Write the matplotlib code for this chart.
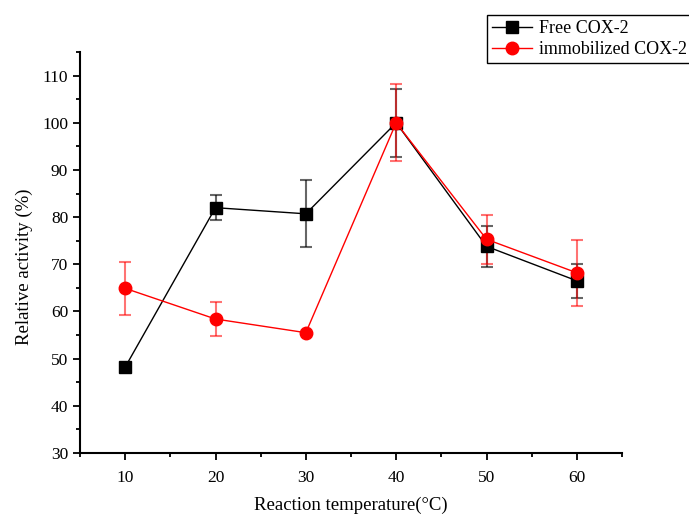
import matplotlib.pyplot as plt
from matplotlib.lines import Line2D
from matplotlib.ticker import MultipleLocator

temps = [10, 20, 30, 40, 50, 60]
free_act = [48.2, 82.0, 80.7, 100.0, 73.8, 66.5]
free_err = [0.0, 2.7, 7.1, 7.2, 4.3, 3.6]
immo_act = [64.9, 58.4, 55.5, 100.0, 75.3, 68.2]
immo_err = [5.6, 3.7, 0.0, 8.2, 5.2, 7.0]

plt.rcParams['font.family'] = 'Liberation Serif'

fig = plt.figure(figsize=(6.89, 5.14), dpi=100)
ax = fig.add_axes([80 / 689, 1 - 453 / 514, (622 - 80) / 689, (453 - 52) / 514])

ax.errorbar(temps, free_act, yerr=free_err, color='black', marker='s', markersize=8,
            linewidth=1, ecolor=(0, 0, 0, 0.6), elinewidth=1.5, capsize=4, capthick=1.5)
ax.errorbar(temps, immo_act, yerr=immo_err, color='red', marker='o', markersize=9,
            linewidth=1, ecolor=(1, 0, 0, 0.55), elinewidth=1.5, capsize=4, capthick=1.5)

ax.set_xlim(5, 65)
ax.set_ylim(30, 115)
ax.xaxis.set_major_locator(MultipleLocator(10))
ax.xaxis.set_minor_locator(MultipleLocator(5))
ax.yaxis.set_minor_locator(MultipleLocator(5))
ax.set_yticks(range(30, 111, 10))
ax.tick_params(which='major', direction='out', length=5, width=1.3, labelsize=12.5)
ax.tick_params(axis='x', which='major', pad=7)
ax.tick_params(which='minor', direction='out', length=3, width=1.3)
for s in ['top', 'right']:
    ax.spines[s].set_visible(False)
for s in ['left', 'bottom']:
    ax.spines[s].set_linewidth(1.5)

ax.set_xlabel('Reaction temperature(°C)', fontsize=13.5, labelpad=8)
ax.set_ylabel('Relative activity (%)', fontsize=13.5)
ax.yaxis.set_label_coords(-0.087, 0.465)

handles = [Line2D([], [], color='black', marker='s', markersize=8, linewidth=1),
           Line2D([], [], color='red', marker='o', markersize=9, linewidth=1)]
labels = ['Free COX-2', 'immobilized COX-2']
leg = fig.legend(handles, labels, loc='upper left', bbox_to_anchor=(487 / 689, 1 - 15 / 514),
                 fontsize=13, frameon=True, fancybox=False, edgecolor='black',
                 framealpha=1, borderaxespad=0, handlelength=2.2, borderpad=0.3,
                 labelspacing=0.2, handletextpad=0.4)
leg.get_frame().set_linewidth(1)

fig.savefig('out.png', dpi=100)
